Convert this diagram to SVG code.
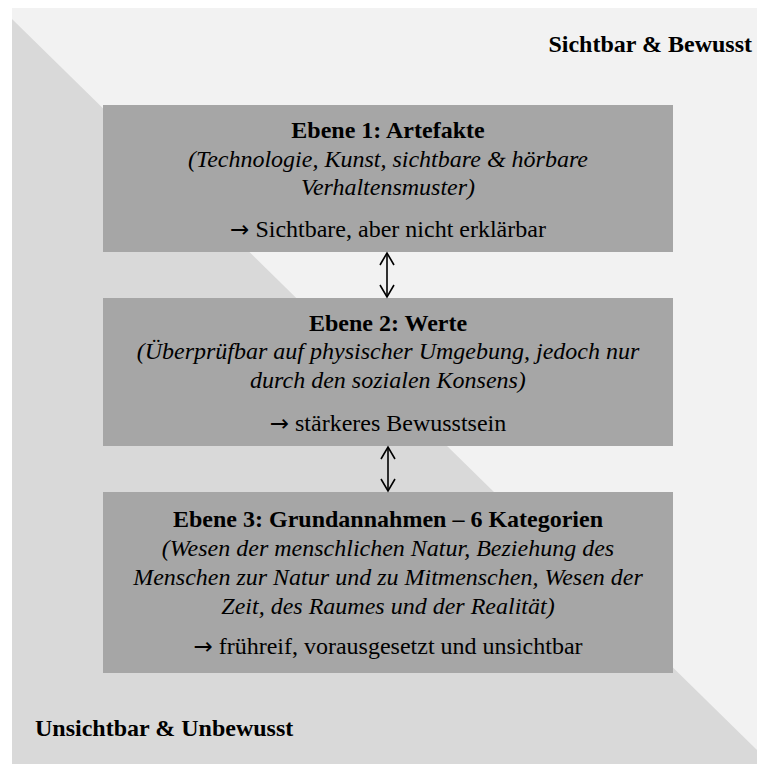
<svg xmlns="http://www.w3.org/2000/svg" width="757" height="764" viewBox="0 0 757 764">
  <style>
    .box { fill: #a6a6a6; }
    .t { font-family: "Liberation Serif", "Times New Roman", serif; font-size: 24px; fill: #000; text-anchor: middle; }
    .b { font-weight: bold; }
    .i { font-style: italic; }
    .arr { font-family: "DejaVu Sans", sans-serif; font-size: 23px; }
    .corner { font-family: "Liberation Serif", "Times New Roman", serif; font-size: 24px; font-weight: bold; fill: #000; }
    .conn { stroke: #000; stroke-width: 1.6; fill: none; }
  </style>
  <defs>
    <marker id="head" markerUnits="userSpaceOnUse" viewBox="-14 -9 16 18" markerWidth="16" markerHeight="18" refX="0" refY="0" orient="auto-start-reverse">
      <path d="M-12,-7 L0,0 L-12,7" fill="none" stroke="#000" stroke-width="1.6"/>
    </marker>
  </defs>

  <g id="background">
    <rect x="12" y="8" width="745" height="756" fill="#f2f2f2"/>
    <polygon points="12,19 757,750 757,764 12,764" fill="#d9d9d9"/>
  </g>

  <g id="label-visible">
    <text class="corner" x="752" y="52" text-anchor="end">Sichtbar &amp; Bewusst</text>
  </g>
  <g id="label-invisible">
    <text class="corner" x="35" y="736">Unsichtbar &amp; Unbewusst</text>
  </g>

  <g id="node-ebene1">
    <rect class="box" x="103" y="105" width="570" height="147"/>
    <text class="t b" x="388" y="138">Ebene 1: Artefakte</text>
    <text class="t i" x="388" y="167">(Technologie, Kunst, sichtbare &amp; hörbare</text>
    <text class="t i" x="388" y="195">Verhaltensmuster)</text>
    <text class="t" x="388" y="237"><tspan class="arr">→</tspan> Sichtbare, aber nicht erklärbar</text>
  </g>

  <g id="node-ebene2">
    <rect class="box" x="103" y="298" width="570" height="148"/>
    <text class="t b" x="388" y="331">Ebene 2: Werte</text>
    <text class="t i" x="388" y="359">(Überprüfbar auf physischer Umgebung, jedoch nur</text>
    <text class="t i" x="388" y="388">durch den sozialen Konsens)</text>
    <text class="t" x="388" y="431"><tspan class="arr">→</tspan> stärkeres Bewusstsein</text>
  </g>

  <g id="node-ebene3">
    <rect class="box" x="103" y="492" width="570" height="181"/>
    <text class="t b" x="388" y="527">Ebene 3: Grundannahmen – 6 Kategorien</text>
    <text class="t i" x="388" y="556">(Wesen der menschlichen Natur, Beziehung des</text>
    <text class="t i" x="388" y="585">Menschen zur Natur und zu Mitmenschen, Wesen der</text>
    <text class="t i" x="388" y="614">Zeit, des Raumes und der Realität)</text>
    <text class="t" x="388" y="654"><tspan class="arr">→</tspan> frühreif, vorausgesetzt und unsichtbar</text>
  </g>

  <g id="connectors">
    <line class="conn" x1="387" y1="253" x2="387" y2="297" marker-start="url(#head)" marker-end="url(#head)"/>
    <line class="conn" x1="388" y1="447" x2="388" y2="491" marker-start="url(#head)" marker-end="url(#head)"/>
  </g>
</svg>
